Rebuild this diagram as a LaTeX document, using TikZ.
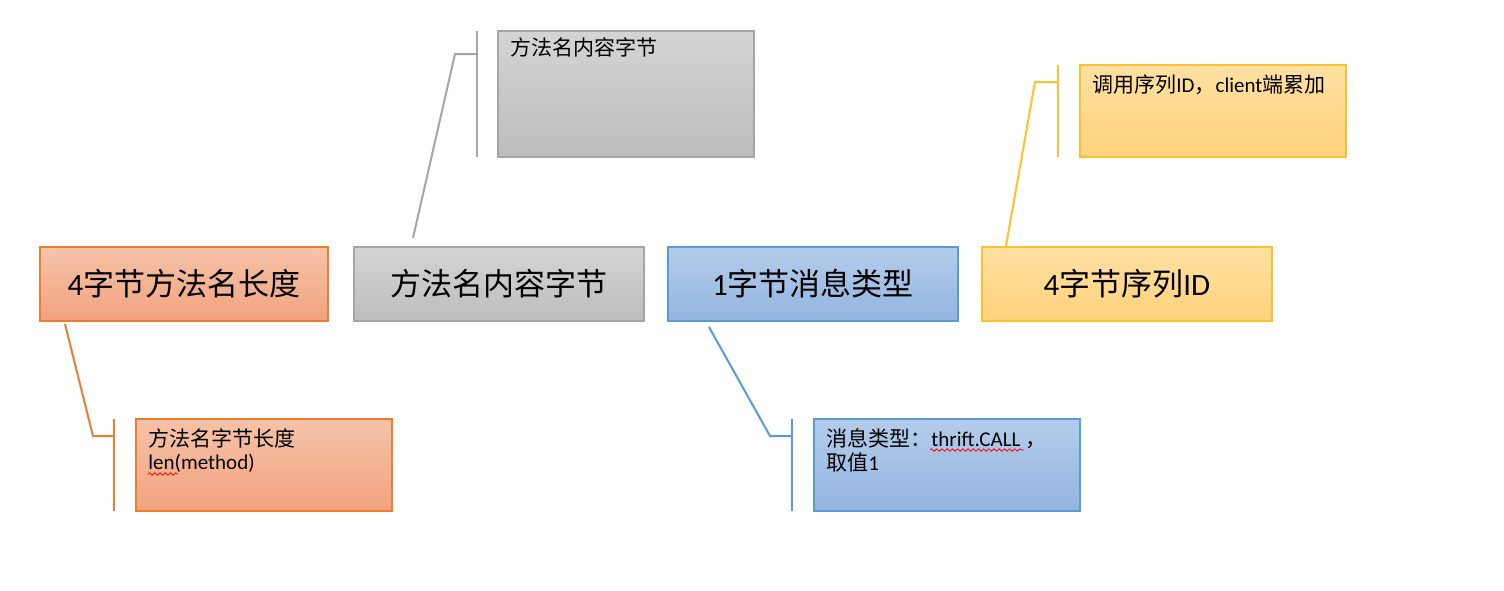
\documentclass[tikz,border=0pt]{standalone}
\usepackage{fontspec}
\setmainfont{Carlito}
\newfontfamily\cjk{Noto Sans CJK SC}
\usetikzlibrary{decorations.pathmorphing}
\definecolor{oBd}{HTML}{ED7D31}
\definecolor{oTop}{HTML}{F5C2A8}
\definecolor{oBot}{HTML}{F2A37F}
\definecolor{gBd}{HTML}{A5A5A5}
\definecolor{gTop}{HTML}{D4D4D4}
\definecolor{gBot}{HTML}{BDBDBD}
\definecolor{bBd}{HTML}{5B9BD5}
\definecolor{bTop}{HTML}{B3CCEA}
\definecolor{bBot}{HTML}{94B5E0}
\definecolor{yBd}{HTML}{FFC02F}
\definecolor{yTop}{HTML}{FFE0A2}
\definecolor{yBot}{HTML}{FFD27C}
\tikzset{
  mainbox/.style={draw, line width=1pt, minimum width=145pt, minimum height=37pt, inner sep=0pt, font=\fontsize{15.5}{17}\selectfont},
  callbox/.style={draw, line width=1pt, minimum width=128pt, minimum height=46pt, inner sep=0pt},
  ctext/.style={anchor=base west, inner sep=0pt, font=\fontsize{10.5}{12}\selectfont},
  lead/.style={line width=1pt},
  spell/.style={red, line width=0.4pt, decorate, decoration={snake, segment length=2.6pt, amplitude=0.6pt}},
  oS/.style={oBd, top color=oTop, bottom color=oBot},
  gS/.style={gBd, top color=gTop, bottom color=gBot},
  bS/.style={bBd, top color=bTop, bottom color=bBot},
  yS/.style={yBd, top color=yTop, bottom color=yBot}
}
\begin{document}
\begin{tikzpicture}[x=0.5pt, y=-0.5pt]
\useasboundingbox[fill=white] (0,0) rectangle (1504,590);
% main boxes
\node[mainbox, oS, minimum width=144pt] (m1) at (184,284) {\textcolor{black}{4{\cjk 字节方法名长度}}};
\node[mainbox, gS] (m2) at (499,284) {\textcolor{black}{\cjk 方法名内容字节}};
\node[mainbox, bS] (m3) at (813,284) {\textcolor{black}{1{\cjk 字节消息类型}}};
\node[mainbox, yS] (m4) at (1127,284) {\textcolor{black}{4{\cjk 字节序列}ID}};
% callout boxes
\node[callbox, oS] (c1) at (264,465) {};
\node[callbox, gS, minimum height=63pt] (c2) at (626,94) {};
\node[callbox, bS, minimum width=133pt] (c3) at (947,465) {};
\node[callbox, yS, minimum width=133pt] (c4) at (1213,111) {};
% callout texts
\node[ctext] (t1a) at (148,446) {\cjk 方法名字节长度};
\node[ctext] (t1b) at (148,469) {len(method)};
\node[ctext] (t2) at (510,55) {\cjk 方法名内容字节};
\node[ctext] (t3a) at (826,446) {{\cjk 消息类型：}thrift.CALL {\cjk ，}};
\node[ctext] (t3b) at (826,470) {{\cjk 取值}1};
\node[ctext] (t4) at (1092,92) {{\cjk 调用序列}ID{\cjk ，}client{\cjk 端累加}};
% spell-check marks
\draw[spell] (148,474) -- (178,474);
\draw[spell] (930,450) -- (1024,450);
% leader coordinates
\coordinate (o1) at (65,324); \coordinate (o2) at (93,436); \coordinate (o3) at (114,436);
\coordinate (o4) at (114,419); \coordinate (o5) at (114,511);
\coordinate (g1) at (413,238); \coordinate (g2) at (455,54); \coordinate (g3) at (477,54);
\coordinate (g4) at (477,31); \coordinate (g5) at (477,157);
\coordinate (b1) at (709,327); \coordinate (b2) at (770,436); \coordinate (b3) at (792,436);
\coordinate (b4) at (792,419); \coordinate (b5) at (792,511);
\coordinate (y1) at (1006,246); \coordinate (y2) at (1035,82); \coordinate (y3) at (1058,82);
\coordinate (y4) at (1058,65); \coordinate (y5) at (1058,157);
% leaders
\draw[lead, oBd] (o1) -- (o2) -- (o3);
\draw[lead, oBd] (o4) -- (o5);
\draw[lead, gBd] (g1) -- (g2) -- (g3);
\draw[lead, gBd] (g4) -- (g5);
\draw[lead, bBd] (b1) -- (b2) -- (b3);
\draw[lead, bBd] (b4) -- (b5);
\draw[lead, yBd] (y1) -- (y2) -- (y3);
\draw[lead, yBd] (y4) -- (y5);
\end{tikzpicture}
\end{document}
